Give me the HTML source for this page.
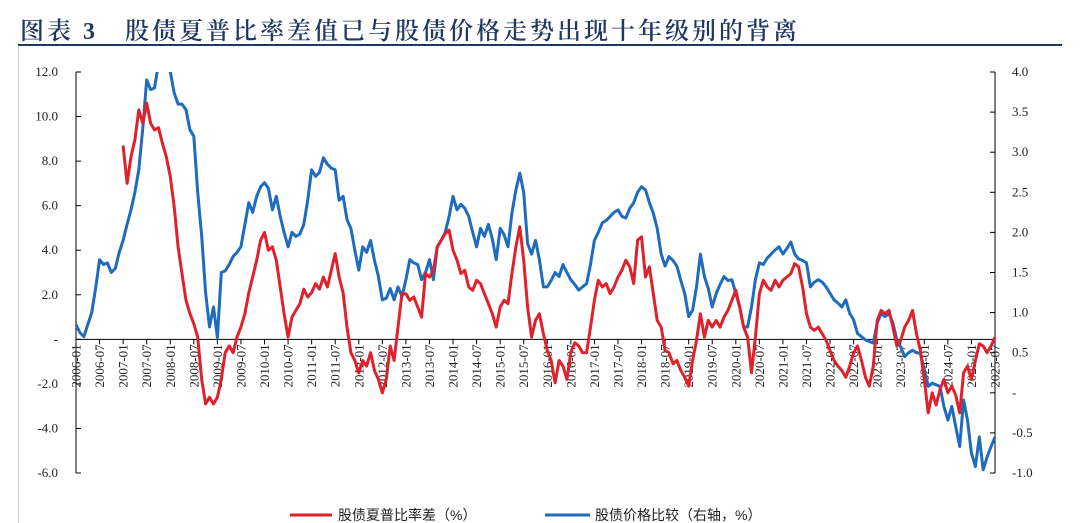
<!DOCTYPE html>
<html><head><meta charset="utf-8">
<style>
html,body{margin:0;padding:0;background:#fff;}
body{width:1080px;height:523px;overflow:hidden;position:relative;font-family:"Liberation Serif","Noto Serif CJK SC",serif;}
#title{position:absolute;left:20px;top:11px;font-size:24px;font-weight:600;color:#1f3864;letter-spacing:3px;font-family:"Liberation Serif","Noto Serif CJK SC",serif;white-space:nowrap;}
#rule{position:absolute;left:18px;top:44px;width:1044px;height:2px;background:#1f3864;}
#frame{position:absolute;left:18px;top:47px;width:1044px;height:476px;border-left:1px solid #ccc;}
svg{position:absolute;left:0;top:0;}
</style></head><body>
<div id="title">图表 3&nbsp;&nbsp; 股债夏普比率差值已与股债价格走势出现十年级别的背离</div>
<div id="rule"></div>
<div id="frame"></div>
<svg id="chart" width="1080" height="523"></svg>
<script>
const startYear = 2006;
const xTickLabels = [];
for (let y = 2006; y <= 2025; y++) { xTickLabels.push(y + "-01"); xTickLabels.push(y + "-07"); }
const leftTicks = [12,10,8,6,4,2,0,-2,-4,-6];
const leftTickLabels = ["12.0","10.0","8.0","6.0","4.0","2.0","-","-2.0","-4.0","-6.0"];
const rightTicks = [4,3.5,3,2.5,2,1.5,1,0.5,0,-0.5,-1];
const rightTickLabels = ["4.0","3.5","3.0","2.5","2.0","1.5","1.0","0.5","-","-0.5","-1.0"];
const blueSeries = [
0.85,0.75,0.70,0.85,1.0,1.3,1.66,1.6,1.62,1.5,1.55,1.75,
1.9,2.1,2.28,2.5,2.78,3.3,3.9,3.78,3.8,4.1,4.2,4.1,
4.0,3.74,3.6,3.6,3.53,3.28,3.2,2.5,1.95,1.25,0.82,1.07,
0.69,1.5,1.52,1.6,1.7,1.75,1.82,2.1,2.37,2.25,2.45,2.57,
2.62,2.55,2.28,2.45,2.2,2.0,1.82,2.0,1.95,1.98,2.1,2.4,
2.78,2.7,2.75,2.93,2.85,2.8,2.78,2.4,2.45,2.16,2.05,1.78,
1.53,1.82,1.75,1.9,1.65,1.45,1.16,1.18,1.3,1.16,1.32,1.2,
1.41,1.66,1.62,1.6,1.41,1.5,1.66,1.41,1.82,1.9,2.0,2.2,
2.45,2.28,2.35,2.3,2.2,2.0,1.82,2.05,1.95,2.1,1.92,1.66,
2.05,1.97,1.82,2.24,2.53,2.74,2.5,1.86,1.73,1.9,1.66,1.32,
1.32,1.4,1.5,1.45,1.6,1.5,1.41,1.35,1.28,1.32,1.36,1.6,
1.9,2.0,2.12,2.15,2.2,2.25,2.28,2.2,2.18,2.3,2.37,2.5,
2.57,2.53,2.37,2.24,2.05,1.73,1.58,1.7,1.65,1.58,1.4,1.24,
0.95,1.03,1.32,1.73,1.45,1.3,1.07,1.24,1.35,1.45,1.4,1.41,
1.24,1.07,0.82,0.82,1.07,1.41,1.62,1.6,1.68,1.73,1.78,1.82,
1.73,1.8,1.88,1.73,1.67,1.65,1.62,1.32,1.38,1.41,1.38,1.32,
1.24,1.16,1.12,1.07,1.16,0.99,0.91,0.74,0.7,0.66,0.64,0.62,
0.87,0.99,0.95,0.99,0.87,0.66,0.57,0.45,0.5,0.53,0.5,0.49,
0.29,0.08,0.12,0.1,0.08,-0.17,-0.34,-0.17,-0.42,-0.67,-0.09,-0.34,
-0.75,-0.92,-0.55,-0.96,-0.80,-0.67,-0.55];
const redSeries = [
null,null,null,null,null,null,null,null,null,null,null,null,
8.7,7.0,8.2,8.95,10.3,9.7,10.6,9.7,9.4,9.5,8.8,8.2,
7.3,5.95,4.15,2.95,1.75,1.15,0.7,0.1,-1.8,-2.9,-2.6,-2.9,
-2.6,-1.8,-0.6,-0.3,-0.6,0.1,0.55,1.15,2.1,2.8,3.55,4.45,
4.8,4.0,4.15,3.55,2.35,1.15,0.1,1.0,1.3,1.6,2.25,1.9,
2.1,2.5,2.25,2.8,2.35,3.1,3.85,2.8,2.1,0.55,-0.6,-0.95,
-1.5,-0.95,-1.2,-0.6,-1.4,-1.8,-2.4,-1.8,-0.3,-0.95,0.55,2.05,
2.05,1.75,1.9,1.45,1.0,2.95,2.8,3.1,4.15,4.45,4.75,4.9,
4.0,3.55,2.95,3.1,2.35,2.2,2.65,2.5,2.05,1.6,1.15,0.55,
1.45,1.75,1.6,2.95,4.15,5.05,3.55,1.45,0.1,0.85,1.15,0.25,
-0.5,-0.95,-1.95,-0.95,-1.2,-1.8,-0.6,-0.15,-0.3,-0.6,-0.6,0.55,
1.75,2.65,2.35,2.5,2.05,2.35,2.8,3.1,3.55,3.25,2.5,4.45,
4.6,2.8,3.25,2.05,0.85,0.55,-0.5,-0.6,-1.1,-0.95,-1.4,-1.7,
-2.1,-0.95,-0.05,1.15,0.1,0.85,0.55,0.85,0.55,1.0,1.3,1.75,
2.2,1.45,0.55,0.1,-1.5,0.1,2.05,2.65,2.35,2.2,2.65,2.35,
2.65,2.8,2.95,3.4,3.25,2.35,1.15,0.55,0.4,0.55,0.25,-0.05,
-0.5,-0.95,-1.2,-1.4,-1.7,-1.2,-0.6,-0.3,-0.95,-1.7,-2.1,-1.2,
0.85,1.3,1.15,1.3,0.55,-0.3,-0.05,0.55,0.85,1.3,0.25,-0.5,
-1.8,-3.3,-2.4,-2.95,-2.25,-1.8,-2.4,-2.1,-2.5,-3.3,-1.5,-1.2,
-1.8,-0.95,-0.2,-0.3,-0.6,-0.3,0.1];

const NS = "http://www.w3.org/2000/svg";
const svg = document.getElementById("chart");
const X0 = 76, X1 = 995, YT = 72, YB = 473;
const nMonths = (xTickLabels.length - 1) * 6;
function xs(i){ return X0 + i * (X1 - X0) / nMonths; }
function yl(v){ return YB - (v - (-6)) * (YB - YT) / 18; }
function yr(v){ return YB - (v - (-1)) * (YB - YT) / 5; }
function mk(tag, attrs){ const e = document.createElementNS(NS, tag); for (const k in attrs) e.setAttribute(k, attrs[k]); svg.appendChild(e); return e; }

const defs = mk("defs", {});
const cp = document.createElementNS(NS, "clipPath"); cp.setAttribute("id","plotclip");
const cr = document.createElementNS(NS, "rect"); cr.setAttribute("x",X0-2); cr.setAttribute("y",YT); cr.setAttribute("width",X1-X0+4); cr.setAttribute("height",YB-YT);
cp.appendChild(cr); defs.appendChild(cp);

let la = mk("line",{x1:X0,y1:YT,x2:X0,y2:YB,stroke:"#000","stroke-width":1});


leftTicks.forEach((v,i)=>{
  const y = yl(v);
  const t = mk("line",{x1:X0,y1:y,x2:X0+5,y2:y,stroke:"#000","stroke-width":1});
  
  
  const tx = mk("text",{x:58,y:y+4,"text-anchor":"end","font-size":"13","font-family":"Liberation Serif, serif",fill:"#222"});
  tx.textContent = leftTickLabels[i];
  
  
});
let ra = mk("line",{x1:X1,y1:YT,x2:X1,y2:YB,stroke:"#000","stroke-width":1});


rightTicks.forEach((v,i)=>{
  const y = yr(v);
  const t = mk("line",{x1:X1-5,y1:y,x2:X1,y2:y,stroke:"#000","stroke-width":1});
  
  
  const tx = mk("text",{x:1012,y:y+4,"text-anchor":"start","font-size":"13","font-family":"Liberation Serif, serif",fill:"#222"});
  tx.textContent = rightTickLabels[i];
  
  
});
const y0 = yl(0);
let xa = mk("line",{x1:X0,y1:y0,x2:X1,y2:y0,stroke:"#000","stroke-width":1});


xTickLabels.forEach((lab,i)=>{
  const x = xs(i*6);
  const t = mk("line",{x1:x,y1:y0,x2:x,y2:y0+5,stroke:"#000","stroke-width":1});
  
  
  const tx = mk("text",{x:0,y:0,"text-anchor":"end","font-size":"13","font-family":"Liberation Serif, serif",fill:"#222",transform:`translate(${x+4.5},${y0+5}) rotate(-90)`});
  tx.textContent = lab;
  
  
});

function pathFor(arr, sc){
  let d = "", pen = false;
  arr.forEach((v,i)=>{
    if (v === null) { pen = false; return; }
    d += (pen ? "L" : "M") + xs(i).toFixed(1) + "," + sc(v).toFixed(1);
    pen = true;
  });
  return d;
}
const g = mk("g",{"clip-path":"url(#plotclip)"});
const bp = document.createElementNS(NS,"path");
bp.setAttribute("d", pathFor(blueSeries, yr)); bp.setAttribute("fill","none"); bp.setAttribute("stroke","#1f6bbd"); bp.setAttribute("stroke-width","3"); bp.setAttribute("stroke-linejoin","round");


g.appendChild(bp);
const rp = document.createElementNS(NS,"path");
rp.setAttribute("d", pathFor(redSeries, yl)); rp.setAttribute("fill","none"); rp.setAttribute("stroke","#e0212b"); rp.setAttribute("stroke-width","3"); rp.setAttribute("stroke-linejoin","round");


g.appendChild(rp);

const lg = mk("g",{});


const l1 = mk("line",{x1:290,y1:515,x2:332,y2:515,stroke:"#e0212b","stroke-width":3});


const t1 = mk("text",{x:338,y:520,"font-size":"14","font-family":"Liberation Sans, Noto Sans CJK SC, sans-serif",fill:"#222"});
t1.textContent = "股债夏普比率差（%）";


const l2 = mk("line",{x1:545,y1:515,x2:590,y2:515,stroke:"#1f6bbd","stroke-width":3});


const t2 = mk("text",{x:595,y:520,"font-size":"14","font-family":"Liberation Sans, Noto Sans CJK SC, sans-serif",fill:"#222"});
t2.textContent = "股债价格比较（右轴，%）";


</script>
</body></html>
